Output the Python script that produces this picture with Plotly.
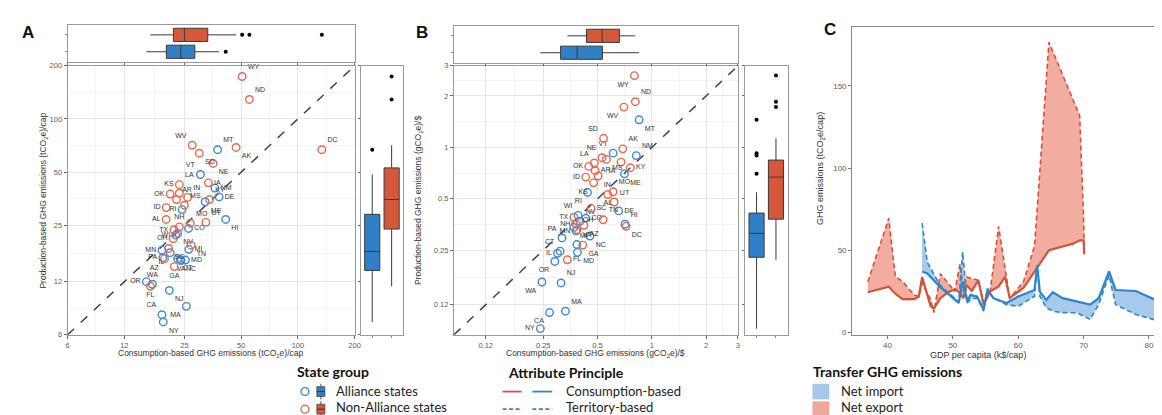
import math
import plotly.graph_objects as go

# ---------------- data ----------------
alliance_states = ["MT", "VT", "NM", "DE", "ME", "RI", "HI", "CO", "WI", "MI", "NV", "MN",
                   "PA", "CT", "MD", "VA", "NC", "WA", "OR", "NJ", "MA", "CA", "NY", "IL"]
A_cons_alliance = [37.5, 30.4, 36.3, 38.2, 32.2, 24.3, 41.4, 26.3, 22.5, 26.4, 23.0, 19.0,
                   19.2, 23.0, 25.3, 24.0, 23.8, 16.9, 15.7, 20.8, 25.6, 19.0, 19.3, 21.0]
A_prod_alliance = [67.0, 48.5, 40.6, 36.2, 34.0, 30.7, 27.0, 24.0, 22.0, 18.3, 22.5, 18.1,
                   16.4, 16.2, 15.9, 15.8, 16.0, 11.6, 12.0, 10.7, 8.7, 7.8, 7.1, 17.5]
B_cons_alliance = [0.85, 0.61, 0.82, 0.655, 0.705, 0.44, 0.71, 0.43, 0.39, 0.37, 0.40, 0.38,
                   0.318, 0.31, 0.387, 0.384, 0.454, 0.246, 0.29, 0.314, 0.332, 0.271, 0.241, 0.30]
B_prod_alliance = [1.45, 0.925, 0.895, 0.425, 0.70, 0.546, 0.355, 0.385, 0.40, 0.34, 0.37, 0.325,
                   0.295, 0.247, 0.243, 0.27, 0.303, 0.163, 0.215, 0.161, 0.11, 0.108, 0.087, 0.24]

non_alliance_states = ["WY", "ND", "DC", "WV", "AK", "SD", "NE", "IA", "LA", "KS", "OK", "IN", "AR", "ID",
                       "KY", "MS", "AL", "MO", "UT", "TX", "NH", "OH", "TN", "SC", "AZ", "GA", "FL"]
A_cons_non = [50.6, 55.3, 134.0, 27.5, 47.0, 30.0, 35.5, 33.5, 23.5, 23.5, 21.0, 26.0, 22.7, 20.0,
              34.0, 25.0, 20.0, 26.9, 32.5, 22.0, 23.5, 21.8, 27.1, 20.6, 19.6, 22.1, 16.5]
A_prod_non = [174.0, 129.0, 67.0, 71.0, 69.0, 64.0, 56.0, 43.5, 42.5, 38.0, 37.6, 36.0, 35.0, 31.5,
              35.0, 32.5, 27.0, 25.7, 26.0, 23.6, 24.5, 21.0, 19.3, 18.5, 16.2, 14.6, 11.3]
B_cons_non = [0.80, 0.81, 0.72, 0.70, 0.69, 0.54, 0.53, 0.675, 0.48, 0.475, 0.447, 0.504, 0.485, 0.43,
              0.76, 0.56, 0.57, 0.61, 0.618, 0.37, 0.38, 0.385, 0.537, 0.46, 0.42, 0.414, 0.34]
B_prod_non = [2.63, 1.85, 0.345, 1.72, 0.98, 1.13, 0.87, 0.82, 0.81, 0.62, 0.774, 0.68, 0.73, 0.67,
              0.76, 0.85, 0.53, 0.55, 0.479, 0.39, 0.355, 0.33, 0.377, 0.44, 0.35, 0.268, 0.22]

A_ticks = [6, 12, 25, 50, 100, 200]
B_ticks = [0.12, 0.25, 0.5, 1, 2, 3]
A_limits = [6, 200]
B_limits = [0.08, 3]

red_gdp = [37.0, 40.2, 41.2, 42.3, 44.1, 44.8, 45.3, 46.6, 47.1, 48.1, 49.1, 50.3, 51.1, 51.6, 52.1,
           52.9, 53.9, 54.7, 55.7, 57.0, 58.0, 58.7, 60.8, 62.5, 64.7, 68.4, 69.4, 70.0, 70.1]
red_cons = [24.4, 27.8, 23.5, 20.2, 20.2, 21.8, 33.7, 15.9, 14.5, 20.8, 24.0, 26.4, 24.0, 20.8, 28.8,
            25.2, 31.7, 17.0, 24.8, 28.0, 33.7, 21.0, 27.0, 36.7, 50.0, 54.0, 56.0, 56.0, 47.6]
red_terr = [30.8, 69.4, 34.0, 31.0, 22.8, 21.8, 30.0, 20.0, 12.0, 35.7, 30.8, 24.8, 41.7, 24.8, 33.7,
            32.7, 31.7, 17.9, 24.8, 64.5, 40.0, 20.8, 30.7, 52.6, 176.5, 141.9, 131.9, 70.0, 47.6]

blue_gdp = [45.3, 46.1, 48.0, 50.9, 51.5, 52.2, 52.7, 53.7, 54.7, 55.3, 56.2, 58.2, 60.0, 62.5,
            62.9, 63.3, 64.3, 65.3, 66.8, 69.0, 71.0, 72.3, 73.9, 74.9, 78.0, 81.5, 82.5]
blue_cons = [37.1, 35.8, 27.8, 17.9, 31.0, 18.8, 22.8, 21.8, 13.9, 25.8, 20.8, 17.9, 21.8, 25.8,
             40.7, 24.8, 19.8, 24.4, 20.8, 18.8, 16.9, 20.8, 37.1, 25.8, 25.2, 18.8, 17.5]
blue_terr = [66.5, 42.6, 29.0, 18.5, 49.0, 17.9, 20.0, 21.0, 12.9, 26.8, 21.0, 16.9, 15.9, 22.0,
             41.0, 22.0, 15.0, 12.9, 12.0, 11.9, 7.9, 16.9, 34.7, 16.9, 10.9, 6.9, 6.5]
C_xticks = [40, 50, 60, 70, 80]
C_yticks = [0, 50, 100, 150]

# ---------------- styles ----------------
W, H = 1162, 415
def px(x): return x / W
def py(y): return 1 - y / H

RED_PT, BLUE_PT = "#E06A50", "#3F8AD4"
RED_BOX, BLUE_BOX = "#D5583B", "#2F80C6"
RED_LINE, BLUE_LINE = "#D4523A", "#2E86C9"
RED_FILL, BLUE_FILL = "rgba(232,112,92,0.58)", "rgba(92,156,220,0.55)"
TXT = "#333333"
TICK = "#5a5a5a"
FONT = "Liberation Sans"
SHORT_DASH = "4px,2.5px"

A_pos = {"WV": "top left", "AK": "bottom right", "SD": "bottom right", "NE": "bottom right",
         "VT": "top left", "NM": "middle right", "KS": "top left", "OK": "middle left",
         "ID": "middle left", "DE": "middle right", "ME": "bottom right", "RI": "middle left",
         "AL": "middle left", "HI": "bottom right", "TX": "middle left", "NH": "top center",
         "CO": "middle right", "WI": "middle left", "OH": "middle left", "MI": "middle right",
         "NV": "bottom right", "MN": "middle left", "SC": "bottom right", "TN": "bottom right",
         "PA": "middle left", "AZ": "bottom left", "MD": "middle right", "CT": "bottom right",
         "VA": "bottom center", "NC": "bottom right", "WA": "top center", "OR": "middle left",
         "GA": "bottom center", "FL": "bottom center", "NJ": "bottom right", "CA": "top left",
         "MA": "bottom left", "NY": "bottom right", "IL": "bottom left", "IA": "middle right"}
B_pos = {"WY": "bottom left", "WV": "bottom left", "MT": "bottom right", "SD": "top left",
         "VT": "top left", "NE": "top left", "MS": "bottom right", "IA": "bottom left",
         "KY": "middle right", "ME": "bottom right", "LA": "top left", "OK": "middle left",
         "AR": "middle right", "IN": "bottom right", "ID": "middle left", "KS": "bottom left",
         "RI": "bottom left", "AL": "bottom center", "DE": "middle right", "DC": "bottom right",
         "SC": "middle right", "CO": "middle right", "WI": "top left", "TX": "middle left",
         "NH": "middle left", "MI": "bottom right", "MN": "middle left", "AZ": "bottom right",
         "PA": "top left", "NC": "bottom right", "GA": "bottom right", "CT": "top left",
         "MD": "bottom right", "IL": "middle left", "FL": "middle right", "OR": "bottom left",
         "WA": "bottom left", "CA": "bottom left", "NY": "middle left"}

fig = go.Figure()

def scatter_panel(xa, ya, lims, cons_a, prod_a, cons_n, prod_n, posmap):
    fig.add_trace(go.Scatter(x=lims, y=lims, mode="lines", xaxis=xa, yaxis=ya,
                             line=dict(color="#444", dash="dash", width=1.5),
                             showlegend=False, hoverinfo="skip"))
    for states, cx, cy, col in [(alliance_states, cons_a, prod_a, BLUE_PT),
                                (non_alliance_states, cons_n, prod_n, RED_PT)]:
        fig.add_trace(go.Scatter(
            x=cx, y=cy, text=states, mode="markers+text", xaxis=xa, yaxis=ya,
            textposition=[posmap.get(s, "top right") for s in states],
            textfont=dict(size=7, color=TXT, family=FONT),
            marker=dict(symbol="circle-open", size=7.5, color=col, line=dict(width=1.4)),
            showlegend=False, cliponaxis=False))

def box_pair(xa, ya, vals_a, vals_n, horizontal):
    for pos, vals, col in [(0, vals_a, BLUE_BOX), (1, vals_n, RED_BOX)]:
        kw = dict(x=vals, y0=pos, orientation="h") if horizontal else dict(y=vals, x0=pos)
        fig.add_trace(go.Box(**kw, xaxis=xa, yaxis=ya, width=0.78, fillcolor=col,
                             line=dict(color="#3a3a3a", width=1), whiskerwidth=0,
                             marker=dict(color="black", size=4), boxpoints="outliers",
                             showlegend=False, hoverinfo="skip"))

scatter_panel("x", "y", A_limits, A_cons_alliance, A_prod_alliance, A_cons_non, A_prod_non, A_pos)
box_pair("x2", "y2", A_cons_alliance, A_cons_non, True)
box_pair("x3", "y3", A_prod_alliance, A_prod_non, False)
scatter_panel("x4", "y4", B_limits, B_cons_alliance, B_prod_alliance, B_cons_non, B_prod_non, B_pos)
box_pair("x5", "y5", B_cons_alliance, B_cons_non, True)
box_pair("x6", "y6", B_prod_alliance, B_prod_non, False)

# Panel C
for gdp, cons, terr, fc in [(red_gdp, red_cons, red_terr, RED_FILL),
                            (blue_gdp, blue_cons, blue_terr, BLUE_FILL)]:
    fig.add_trace(go.Scatter(x=gdp + gdp[::-1], y=cons + terr[::-1], fill="toself",
                             fillcolor=fc, line=dict(width=0), mode="lines",
                             xaxis="x7", yaxis="y7", showlegend=False, hoverinfo="skip"))
for gdp, cons, terr, lc in [(red_gdp, red_cons, red_terr, RED_LINE),
                            (blue_gdp, blue_cons, blue_terr, BLUE_LINE)]:
    fig.add_trace(go.Scatter(x=gdp, y=terr, mode="lines",
                             line=dict(color=lc, width=1.6, dash="5px,3px"),
                             xaxis="x7", yaxis="y7", showlegend=False))
    fig.add_trace(go.Scatter(x=gdp, y=cons, mode="lines", line=dict(color=lc, width=2.2),
                             xaxis="x7", yaxis="y7", showlegend=False))

# ---------------- axes ----------------
def minor_vals(t):
    return [math.sqrt(a * b) for a, b in zip(t[:-1], t[1:])]

def log_axis(dom, anchor, ticks, lims, labels=True):
    return dict(domain=dom, anchor=anchor, type="log",
                range=[math.log10(lims[0]), math.log10(lims[1])],
                tickmode="array", tickvals=ticks, ticktext=[str(t) for t in ticks],
                showticklabels=labels, ticks="outside", ticklen=3, tickcolor="#666",
                tickfont=dict(size=7.5, color=TICK, family=FONT),
                showline=True, mirror=True, linecolor="#9a9a9a", linewidth=1,
                showgrid=True, gridcolor="#e6e6e6", gridwidth=1, zeroline=False,
                minor=dict(tickmode="array", tickvals=minor_vals(ticks), showgrid=True,
                           gridcolor="#f3f3f3", ticklen=0))

def cat_axis(dom, anchor):
    return dict(domain=dom, anchor=anchor, range=[-0.6, 1.6], tickmode="array", tickvals=[0, 1],
                showticklabels=False, ticks="outside", ticklen=2, tickcolor="#888",
                showline=True, mirror=True, linecolor="#9a9a9a", linewidth=1,
                showgrid=False, zeroline=False)

def plain_box_axis(ax):
    ax = dict(ax)
    ax.update(showgrid=False, minor=dict(showgrid=False), ticklen=2)
    return ax

mainY = [py(330), py(55)]
Ax = [px(58), px(347)]
Bx = [px(447), px(733)]

fig.update_layout(
    xaxis=log_axis(Ax, "y", A_ticks, A_limits),
    yaxis=log_axis(mainY, "x", A_ticks, A_limits),
    xaxis2=plain_box_axis(log_axis(Ax, "y2", A_ticks, A_limits, labels=False)),
    yaxis2=cat_axis([py(51), py(13)], "x2"),
    xaxis3=cat_axis([px(353), px(396)], "y3"),
    yaxis3=plain_box_axis(log_axis(mainY, "x3", A_ticks, A_limits, labels=False)),
    xaxis4=log_axis(Bx, "y4", B_ticks, B_limits),
    yaxis4=log_axis(mainY, "x4", B_ticks, B_limits),
    xaxis5=plain_box_axis(log_axis(Bx, "y5", B_ticks, B_limits, labels=False)),
    yaxis5=cat_axis([py(52), py(14)], "x5"),
    xaxis6=cat_axis([px(740), px(783)], "y6"),
    yaxis6=plain_box_axis(log_axis(mainY, "x6", B_ticks, B_limits, labels=False)),
    xaxis7=dict(domain=[px(848), 1.0], anchor="y7", range=[34.6, 82.3], tickmode="array",
                tickvals=C_xticks, ticks="outside", ticklen=3, tickcolor="#777",
                tickfont=dict(size=8, color=TICK, family=FONT), showline=True, mirror=True,
                linecolor="#8a8a8a", showgrid=False, zeroline=False),
    yaxis7=dict(domain=[py(330), py(15)], anchor="x7", range=[-1.5, 186], tickmode="array",
                tickvals=C_yticks, ticks="outside", ticklen=3, tickcolor="#777",
                tickfont=dict(size=8, color=TICK, family=FONT), showline=True, mirror=False,
                linecolor="#8a8a8a", showgrid=False, zeroline=False),
    width=W, height=H, margin=dict(l=0, r=0, t=0, b=0),
    paper_bgcolor="white", plot_bgcolor="white", showlegend=False,
    font=dict(family=FONT, color=TXT),
)

# ---------------- text ----------------
anns = []
def ann(text, x, y, size, color=TXT, bold=False, xanchor="center", angle=0, family=FONT):
    anns.append(dict(text=f"<b>{text}</b>" if bold else text, x=px(x), y=py(y), xref="paper",
                     yref="paper", showarrow=False, xanchor=xanchor, yanchor="middle",
                     textangle=angle, font=dict(size=size, color=color, family=family)))

ann("A", 18, 21, 17, "#111", bold=True)
ann("B", 415, 21, 17, "#111", bold=True)
ann("C", 826, 18, 17, "#111", bold=True)
ann("Consumption-based GHG emissions (tCO<sub>2</sub>e)/cap", 202, 349, 8.5)
ann("Production-based GHG emissions (tCO<sub>2</sub>e)/cap", 34, 193, 8.5, angle=-90)
ann("Consumption-based GHG emissions (gCO<sub>2</sub>e)/$", 590, 349, 8.5)
ann("Production-based GHG emissions (gCO<sub>2</sub>e)/$", 412, 193, 8.5, angle=-90)
ann("GDP per capita (k$/cap)", 975, 351, 9)
ann("GHG emissions (tCO<sub>2</sub>e/cap)", 816, 160, 9, angle=-90)

LEG = "Lato"
ann("State group", 287, 367, 14, "#111", bold=True, xanchor="left", family=LEG)
ann("Alliance states", 326, 387, 13, "#222", xanchor="left", family=LEG)
ann("Non-Alliance states", 326, 404, 13, "#222", xanchor="left", family=LEG)
ann("Attribute Principle", 499, 368, 14, "#111", bold=True, xanchor="left", family=LEG)
ann("Consumption-based", 558, 387, 13, "#222", xanchor="left", family=LEG)
ann("Territory-based", 558, 404, 13, "#222", xanchor="left", family=LEG)
ann("Transfer GHG emissions", 807, 367, 14, "#111", bold=True, xanchor="left", family=LEG)
ann("Net import", 835, 387, 13, "#222", xanchor="left", family=LEG)
ann("Net export", 835, 404, 13, "#222", xanchor="left", family=LEG)
fig.update_layout(annotations=anns)

# legend icons (paper coordinates)
shapes = []
for yy, pc, bc in [(388, BLUE_PT, BLUE_BOX), (406, RED_PT, RED_BOX)]:
    shapes.append(dict(type="circle", xref="paper", yref="paper", x0=px(293), x1=px(301),
                       y0=py(yy + 4), y1=py(yy - 4), line=dict(color=pc, width=1.4)))
    shapes.append(dict(type="line", xref="paper", yref="paper", x0=px(313), x1=px(313),
                       y0=py(yy + 8), y1=py(yy - 8), line=dict(color="#555", width=1)))
    shapes.append(dict(type="rect", xref="paper", yref="paper", x0=px(309), x1=px(317),
                       y0=py(yy + 5), y1=py(yy - 5), fillcolor=bc, line=dict(color="#444", width=0.8)))
    shapes.append(dict(type="line", xref="paper", yref="paper", x0=px(309), x1=px(317),
                       y0=py(yy), y1=py(yy), line=dict(color="#333", width=1)))
for yy, dash in [(388, "solid"), (406, SHORT_DASH)]:
    for x0, x1, c in [(496, 515, RED_LINE), (526, 546, BLUE_LINE)]:
        shapes.append(dict(type="line", xref="paper", yref="paper", x0=px(x0), x1=px(x1),
                           y0=py(yy), y1=py(yy), line=dict(color=c, width=1.8, dash=dash)))
for yy, fc in [(388, "#A8C8EA"), (406, "#F0A896")]:
    shapes.append(dict(type="rect", xref="paper", yref="paper", x0=px(808), x1=px(825),
                       y0=py(yy + 8), y1=py(yy - 8), fillcolor=fc, line=dict(width=0)))
fig.update_layout(shapes=shapes)

fig.write_html("out.html")
